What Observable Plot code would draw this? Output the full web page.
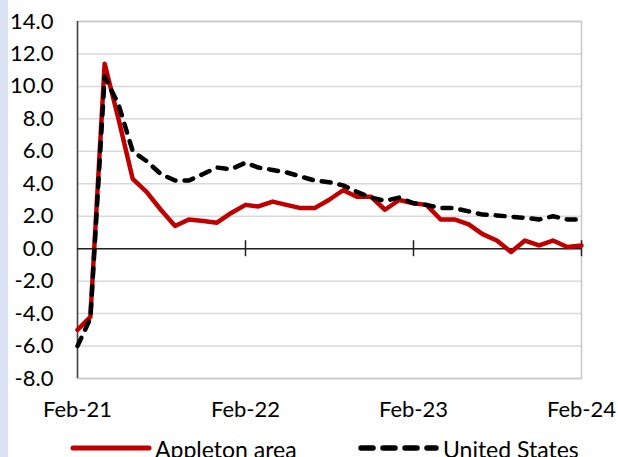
<!DOCTYPE html>
<html>
<head>
<meta charset="utf-8">
<script src="https://cdn.jsdelivr.net/npm/d3@7"></script>
<script src="https://cdn.jsdelivr.net/npm/@observablehq/plot@0.6"></script>
<style>
  html, body { margin: 0; padding: 0; background: #fff; }
  body { width: 618px; height: 457px; overflow: hidden; position: relative; font-family: Lato, "Open Sans", sans-serif; }
  #band { position: absolute; left: 0; top: 0; width: 8px; height: 457px; background: #dae3f3; }
  #chart { position: absolute; left: 0; top: 0; }
  #legend { position: absolute; left: 0; top: 432px; width: 618px; height: 40px; }
  .item { position: absolute; top: 0; height: 40px; }
  .item svg { position: absolute; left: 0; top: 0; }
  .item span { position: absolute; top: 6px; white-space: nowrap; font-size: 23px; line-height: 23px; color: #000; }
</style>
</head>
<body>
<div id="band"></div>
<div id="chart"></div>
<div id="legend"></div>
<script>
const months = d3.timeMonth.range(new Date(2021, 1, 1), new Date(2024, 2, 1));
const appleton = [-5.0, -4.2, 11.4, 8.0, 4.3, 3.5, 2.4, 1.4, 1.8, 1.7, 1.6, 2.2,
  2.7, 2.6, 2.9, 2.7, 2.5, 2.5, 3.0, 3.6, 3.2, 3.2, 2.4, 3.0,
  2.8, 2.7, 1.8, 1.8, 1.5, 0.9, 0.5, -0.2, 0.5, 0.2, 0.5, 0.1, 0.2];
const unitedStates = [-6.0, -4.3, 10.6, 8.9, 6.0, 5.4, 4.6, 4.2, 4.2, 4.6, 5.0, 4.9,
  5.3, 5.0, 4.85, 4.7, 4.45, 4.2, 4.1, 3.9, 3.5, 3.15, 2.95, 3.15,
  2.8, 2.7, 2.5, 2.5, 2.3, 2.1, 2.05, 1.97, 1.9, 1.8, 2.0, 1.8, 1.8];
const seriesNames = ["Appleton area", "United States"];
const yTicks = d3.range(-8, 14.01, 2);
const xTicks = [new Date(2021, 1, 1), new Date(2022, 1, 1), new Date(2023, 1, 1), new Date(2024, 1, 1)];

const dataA = months.map((d, i) => ({date: d, value: appleton[i]}));
const dataU = months.map((d, i) => ({date: d, value: unitedStates[i]}));

const font = "Lato, 'Open Sans', sans-serif";
const chart = Plot.plot({
  width: 618,
  height: 432,
  marginLeft: 77,
  marginRight: 37,
  marginTop: 21,
  marginBottom: 54,
  style: {fontFamily: font, fontSize: "22px", color: "#000", background: "transparent", overflow: "visible"},
  x: {type: "time", domain: [xTicks[0], xTicks[3]]},
  y: {domain: [-8, 14]},
  marks: [
    Plot.gridY(yTicks, {stroke: "#d9d9d9", strokeOpacity: 1, strokeWidth: 1.5}),
    Plot.frame({stroke: "#c8c8c8", strokeWidth: 1.5}),
    Plot.ruleX([xTicks[0]], {stroke: "#404040", strokeWidth: 1.5}),
    Plot.ruleY([0], {stroke: "#222", strokeWidth: 1.5}),
    Plot.ruleX(xTicks.slice(1), {y1: 0, y2: 0, insetTop: -8, insetBottom: -8, stroke: "#222", strokeWidth: 1.5}),
    Plot.axisY(yTicks, {label: null, tickFormat: d => d.toFixed(1), tickSize: 0, tickPadding: 24, fontSize: 22, fill: "#000"}),
    Plot.axisX(xTicks, {label: null, tickFormat: d3.timeFormat("%b-%y"), tickSize: 0, tickPadding: 23, fontSize: 22, fill: "#000"}),
    Plot.line(dataA, {x: "date", y: "value", stroke: "#c00000", strokeWidth: 4.5, strokeLinejoin: "round"}),
    Plot.line(dataU, {x: "date", y: "value", stroke: "#000", strokeWidth: 4.5, strokeDasharray: "9,9", strokeLinecap: "round", strokeLinejoin: "round"})
  ]
});
document.getElementById("chart").appendChild(chart);

const legend = document.getElementById("legend");
legend.innerHTML = `
  <div class="item" style="left:70px;">
    <svg width="82" height="40"><line x1="3" y1="16" x2="79" y2="16" stroke="#c00000" stroke-width="5" stroke-linecap="round"/></svg>
    <span style="left:85px;">${seriesNames[0]}</span>
  </div>
  <div class="item" style="left:358px;">
    <svg width="82" height="40"><line x1="3" y1="16" x2="78" y2="16" stroke="#000" stroke-width="5.5" stroke-linecap="round" stroke-dasharray="12,10"/></svg>
    <span style="left:85px;">${seriesNames[1]}</span>
  </div>`;
</script>
</body>
</html>
